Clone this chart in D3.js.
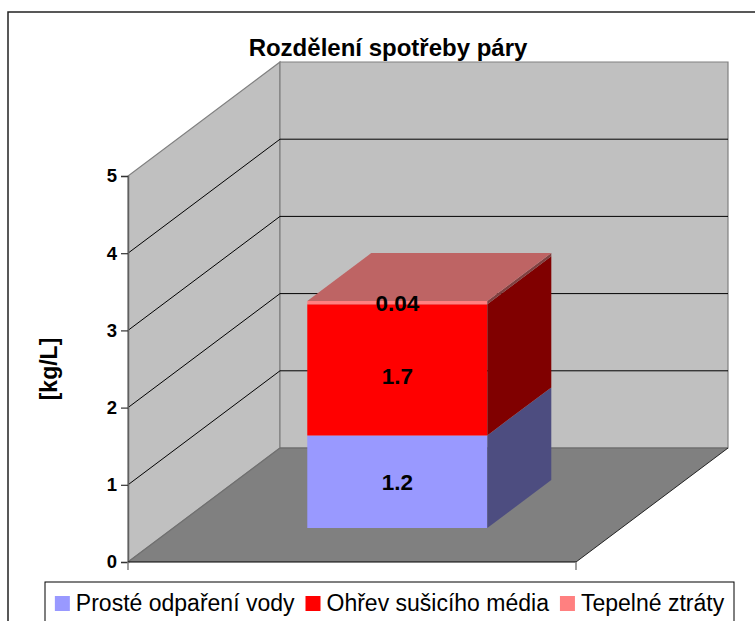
<!DOCTYPE html>
<html><head><meta charset="utf-8">
<script src="https://cdn.jsdelivr.net/npm/d3@7"></script>
<style>html,body{margin:0;padding:0;background:#fff;}svg{display:block;font-family:"Liberation Sans",Arial,sans-serif;}</style>
</head><body>
<svg id="c" width="755" height="621"></svg>
<script>
// ---- data ----
const title = "Rozdělení spotřeby páry";
const yAxisTitle = "[kg/L]";
const categories = [""];
const seriesNames = ["Prosté odpaření vody", "Ohřev sušicího média", "Tepelné ztráty"];
const seriesValues = [[1.2], [1.7], [0.04]];
const valueLabels = [["1.2"], ["1.7"], ["0.04"]];
const yTicks = [0, 1, 2, 3, 4, 5];
const frontColors = ["#9999FF", "#FF0000", "#FF8080"];
const sideColors = ["#4D4D80", "#800000", "#804040"];
const topColors = ["#BE6464", "#BE6464", "#BE6464"];

// ---- layout ----
const svg = d3.select("#c");
const x0 = 128, x1 = 576, yBase = 562, yTop = 176;
const depthDX = 152, depthDY = -114;
const barT0 = 0.298, barT1 = 0.719;

const y = d3.scaleLinear().domain([0, 5]).range([yBase, yTop]);
const x = d3.scaleBand().domain(categories).range([x0, x1]).padding(0.4267);
const proj = (px, v, t) => [px + depthDX * t, y(v) + depthDY * t];
const poly = pts => "M" + pts.map(p => p.join(",")).join("L") + "Z";

// outer chart border
svg.append("rect").attr("x", 8).attr("y", 12).attr("width", 800).attr("height", 700)
  .attr("fill", "#fff").attr("stroke", "#222").attr("stroke-width", 1.5);

// title
svg.append("text").attr("x", 388).attr("y", 56).attr("text-anchor", "middle")
  .attr("font-weight", "bold").attr("font-size", 24).text(title);

// walls
const yMax = y.domain()[1];
svg.append("path").attr("d", poly([proj(x0, 0, 0), proj(x0, yMax, 0), proj(x0, yMax, 1), proj(x0, 0, 1)]))
  .attr("fill", "#C0C0C0").attr("stroke", "#808080").attr("stroke-width", 1.2);
svg.append("path").attr("d", poly([proj(x0, 0, 1), proj(x0, yMax, 1), proj(x1, yMax, 1), proj(x1, 0, 1)]))
  .attr("fill", "#C0C0C0").attr("stroke", "#808080").attr("stroke-width", 1.2);
// floor
svg.append("path").attr("d", poly([proj(x0, 0, 0), proj(x0, 0, 1), proj(x1, 0, 1), proj(x1, 0, 0)]))
  .attr("fill", "#808080").attr("stroke", "none");
svg.append("line").attr("x1", proj(x0,0,1)[0]).attr("y1", proj(x0,0,1)[1]).attr("x2", proj(x1,0,1)[0]).attr("y2", proj(x1,0,1)[1])
  .attr("stroke", "#666").attr("stroke-width", 1.2);
svg.append("line").attr("x1", proj(x0,0,0)[0]).attr("y1", proj(x0,0,0)[1]).attr("x2", proj(x0,0,1)[0]).attr("y2", proj(x0,0,1)[1])
  .attr("stroke", "#707070").attr("stroke-width", 1.2);
svg.append("line").attr("x1", proj(x1,0,0)[0]).attr("y1", proj(x1,0,0)[1]).attr("x2", proj(x1,0,1)[0]).attr("y2", proj(x1,0,1)[1])
  .attr("stroke", "#222").attr("stroke-width", 1);

// gridlines
const grid = yTicks.filter(v => v > 0 && v < yMax);
svg.append("g").selectAll("path").data(grid).join("path")
  .attr("d", v => "M" + proj(x0, v, 0) + "L" + proj(x0, v, 1) + "L" + proj(x1, v, 1))
  .attr("fill", "none").attr("stroke", "#000").attr("stroke-width", 1);

// y axis
const yAxis = d3.axisLeft(y).tickValues(yTicks).tickSize(7).tickPadding(4).tickFormat(d3.format("d"));
const ga = svg.append("g").attr("transform", `translate(${x0},0)`).call(yAxis);
ga.select(".domain").attr("stroke", "#606060").attr("stroke-width", 1.5);
ga.selectAll(".tick line").attr("stroke", "#333").attr("stroke-width", 1.2);
ga.selectAll(".tick text").attr("font-size", 18.5).attr("font-weight", "bold").attr("fill", "#000")
  .attr("font-family", "Liberation Sans, Arial, sans-serif");
// x axis line (front floor edge) with end ticks
svg.append("line").attr("x1", x0).attr("x2", x1).attr("y1", y(0)).attr("y2", y(0)).attr("stroke", "#000").attr("stroke-width", 1.2);
svg.append("g").selectAll("line").data([x0, x1]).join("line")
  .attr("x1", d => d).attr("x2", d => d).attr("y1", y(0)).attr("y2", y(0) + 8)
  .attr("stroke", "#808080").attr("stroke-width", 1.5);

// y axis title
svg.append("text").attr("transform", `translate(57,${(y(0) + y(yMax)) / 2}) rotate(-90)`)
  .attr("text-anchor", "middle").attr("font-weight", "bold").attr("font-size", 23).text(yAxisTitle);

// stacked 3D bars
const cat = categories[0];
const bx0 = x(cat), bx1 = x(cat) + x.bandwidth();
let cum = 0;
const segs = seriesValues.map((vals, i) => { const s = { i, v0: cum, v1: cum + vals[0], label: valueLabels[i][0] }; cum += vals[0]; return s; });
const gb = svg.append("g");
segs.forEach(s => {
  gb.append("path").attr("d", poly([proj(bx0, s.v0, barT0), proj(bx1, s.v0, barT0), proj(bx1, s.v1, barT0), proj(bx0, s.v1, barT0)]))
    .attr("fill", frontColors[s.i]);
  gb.append("path").attr("d", poly([proj(bx1, s.v0, barT0), proj(bx1, s.v0, barT1), proj(bx1, s.v1, barT1), proj(bx1, s.v1, barT0)]))
    .attr("fill", sideColors[s.i]);
});
const topSeg = segs[segs.length - 1];
gb.append("path").attr("d", poly([proj(bx0, topSeg.v1, barT0), proj(bx1, topSeg.v1, barT0), proj(bx1, topSeg.v1, barT1), proj(bx0, topSeg.v1, barT1)]))
  .attr("fill", topColors[topSeg.i]);

// value labels
svg.append("g").selectAll("text").data(segs).join("text")
  .attr("x", s => proj((bx0 + bx1) / 2, 0, barT0)[0])
  .attr("y", s => proj(0, (s.v0 + s.v1) / 2, barT0)[1] + (s.i === 1 ? 6 : 0))
  .attr("dy", "0.36em").attr("text-anchor", "middle").attr("font-weight", "bold").attr("font-size", 22.5)
  .text(s => s.label);

// legend
const lg = svg.append("g");
lg.append("rect").attr("x", 45).attr("y", 582).attr("width", 689).attr("height", 60)
  .attr("fill", "#fff").attr("stroke", "#000").attr("stroke-width", 1);
const items = lg.selectAll("g.it").data(seriesNames).join("g").attr("class", "it");
items.append("rect").attr("width", 15).attr("height", 15).attr("y", 596).attr("fill", (d, i) => frontColors[i]);
items.append("text").attr("y", 611).attr("font-size", 23).text(d => d);
let widths = [];
items.select("text").each(function () { widths.push(this.getComputedTextLength()); });
const mk = 15, g1 = 6, g2 = 11;
const total = widths.reduce((a, b) => a + b, 0) + seriesNames.length * (mk + g1) + (seriesNames.length - 1) * g2;
let cx = 45 + 689 / 2 - total / 2;
items.each(function (d, i) {
  const it = d3.select(this);
  it.select("rect").attr("x", cx);
  it.select("text").attr("x", cx + mk + g1);
  cx += mk + g1 + widths[i] + g2;
});
</script>
</body></html>
